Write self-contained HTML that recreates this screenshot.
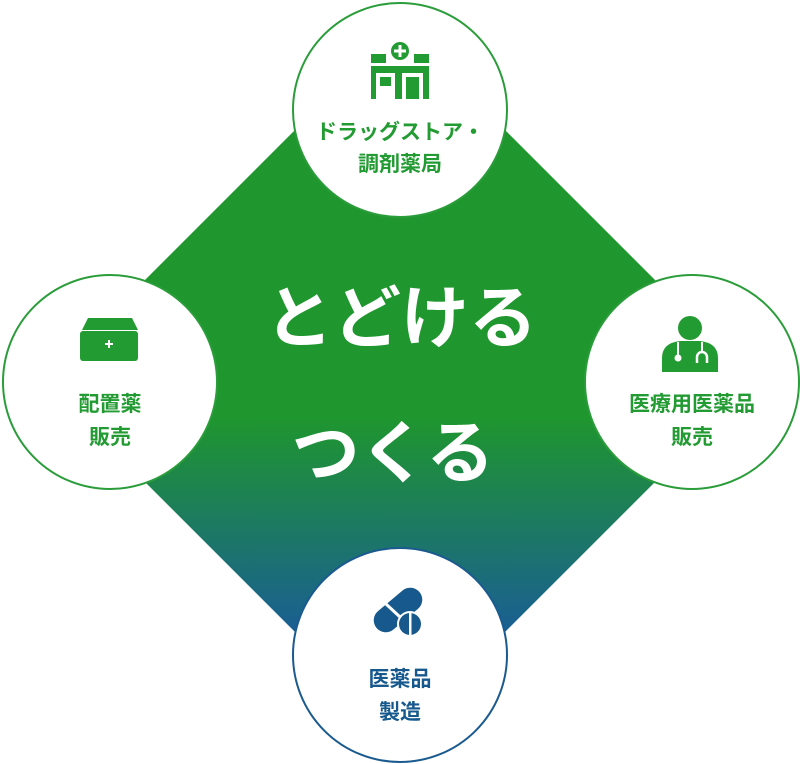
<!DOCTYPE html>
<html><head><meta charset="utf-8"><style>
body{margin:0;background:#fff;}
svg{display:block}
text{font-family:"Liberation Sans","Noto Sans CJK JP",sans-serif;font-weight:bold;text-anchor:middle}
</style></head><body>
<svg width="800" height="764" viewBox="0 0 800 764">
<defs>
<linearGradient id="g" x1="0" y1="0" x2="0" y2="1" gradientUnits="objectBoundingBox">
<stop offset="0" stop-color="#1f962e"/>
<stop offset="0.55" stop-color="#1f962e"/>
<stop offset="0.85" stop-color="#1a5f92"/>
<stop offset="1" stop-color="#1a5a94"/>
</linearGradient>
</defs>
<polygon points="400,25 756,381 400,737 44,381" fill="url(#g)"/>
<text x="401" y="342" font-size="68" fill="#fff">とどける</text>
<text x="393" y="477" font-size="68" fill="#fff">つくる</text>

<!-- top -->
<circle cx="400" cy="110" r="107" fill="#fff" stroke="#2a9d3a" stroke-width="2"/>
<g fill="#239b33">
<rect x="371" y="54" width="15" height="9"/><rect x="414" y="54" width="15" height="9"/>
<circle cx="400" cy="51" r="9"/>
<rect x="371" y="66" width="58" height="33"/>
</g>
<g fill="#fff">
<rect x="398.5" y="45" width="3" height="12"/><rect x="394" y="49.5" width="12" height="3"/>
<rect x="376" y="73" width="19" height="26"/><rect x="402" y="73" width="21" height="26"/>
</g>
<g fill="#239b33"><rect x="380" y="77" width="11" height="9"/><rect x="406" y="77" width="13" height="22"/></g>
<text x="400" y="139" font-size="21" fill="#239b33">ドラッグストア・</text>
<text x="400" y="171" font-size="21" fill="#239b33">調剤薬局</text>

<!-- left -->
<circle cx="110" cy="382" r="107" fill="#fff" stroke="#2a9d3a" stroke-width="2"/>
<path d="M88,318 h44 l6,12 h-56 z" fill="#239b33"/>
<rect x="80" y="331" width="58" height="30" rx="3" fill="#239b33"/>
<rect x="108" y="340" width="2" height="8" fill="#fff"/><rect x="105" y="343" width="8" height="2" fill="#fff"/>
<text x="110" y="411" font-size="21" fill="#239b33">配置薬</text>
<text x="110" y="444" font-size="21" fill="#239b33">販売</text>

<!-- right -->
<circle cx="692" cy="382" r="107" fill="#fff" stroke="#2a9d3a" stroke-width="2"/>
<circle cx="690" cy="328" r="12" fill="#239b33"/>
<path d="M662,372 v-14 q0,-15 18,-17 h20 q18,2 18,17 v14 z" fill="#239b33"/>
<path d="M678,342 v14 M702,342 v10" stroke="#fff" stroke-width="2" fill="none"/>
<circle cx="678" cy="358" r="3.5" fill="#fff"/>
<path d="M697,363 v-6 a5,5 0 0 1 10,0 v6" stroke="#fff" stroke-width="2.5" fill="none"/>
<text x="692" y="411" font-size="21" fill="#239b33">医療用医薬品</text>
<text x="692" y="444" font-size="21" fill="#239b33">販売</text>

<!-- bottom -->
<circle cx="400" cy="655" r="107" fill="#fff" stroke="#1a5a8e" stroke-width="2"/>
<g transform="rotate(-40 398 610)"><rect x="370" y="598" width="56" height="24" rx="12" fill="#17598d"/></g>
<path d="M386,604 l14,13" stroke="#fff" stroke-width="3"/>
<circle cx="410" cy="624" r="13" fill="#fff"/>
<circle cx="410" cy="624" r="11" fill="#17598d"/>
<rect x="409" y="613" width="2.5" height="22" fill="#fff"/>
<text x="400" y="686" font-size="21" fill="#17598d">医薬品</text>
<text x="400" y="719" font-size="21" fill="#17598d">製造</text>
</svg>
</body></html>
